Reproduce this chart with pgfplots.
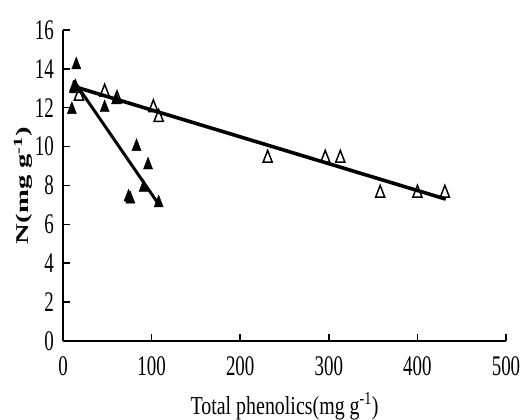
\documentclass[border=0pt]{standalone}
\usepackage{fontspec}
\setmainfont{Liberation Serif}
\usepackage{graphicx}
\usepackage{pgfplots}
\pgfplotsset{compat=1.18}

\begin{document}
\begin{tikzpicture}
\begin{axis}[
  width=443bp, height=311bp,
  scale only axis,
  xmin=0, xmax=500,
  ymin=0, ymax=16,
  axis lines*=left,
  axis line style={line width=1.8pt},
  xtick={0,100,...,500},
  ytick={0,2,...,16},
  tick align=inside,
  major tick length=7bp,
  tick style={line width=1.5pt, black},
  /pgf/number format/assume math mode=true,
  tick label style={font=\fontsize{19}{21}\selectfont, yscale=1.5, inner sep=0pt},
  xticklabel style={anchor=center, yshift=-17bp},
  yticklabel style={anchor=east, xshift=-9bp},
  xlabel={Total phenolics(mg g\textsuperscript{-1})},
  ylabel={\scalebox{1.6}[1]{\bfseries N(mg g\textsuperscript{-1})}},
  xlabel style={font=\fontsize{20}{22}\selectfont, yscale=1.3, inner sep=0pt,
    at={(axis description cs:0.5,0)}, anchor=center, yshift=-50bp},
  ylabel style={font=\fontsize{18}{20}\selectfont, inner sep=0pt,
    at={(axis description cs:0,0.5)}, anchor=center, yshift=40bp},
  clip=false,
]
% open triangles
\addplot[only marks, mark=triangle, mark size=5.3pt, mark options={line width=1.5pt, black, fill=white, yscale=1.5}] coordinates {
  (14,13.0) (18,12.6) (47,12.8) (61,12.45) (102,12.0) (108,11.5)
  (231,9.4) (296,9.4) (313,9.4) (358,7.6) (400,7.6) (431,7.6)
};
% filled triangles
\addplot[only marks, mark=triangle*, mark size=5.3pt, mark options={black, fill=black, yscale=1.5}] coordinates {
  (10,11.9) (12,13.0) (15,14.2) (47,12.0) (60,12.4)
  (83,10.0) (96,9.05) (91,7.9) (74,7.4) (76,7.3) (108,7.1)
};
% regression lines
\addplot[black, line width=3.6pt] coordinates {(12,13.1) (432,7.3)};
\addplot[black, line width=3.0pt] coordinates {(12,13.4) (107,7.1)};
% page margins as in the reference
\path (rel axis cs:0,0) ++(-63bp,-75bp) coordinate (bl);
\path (rel axis cs:1,1) ++(19bp,30bp) coordinate (tr);
\end{axis}
\end{tikzpicture}
\end{document}
